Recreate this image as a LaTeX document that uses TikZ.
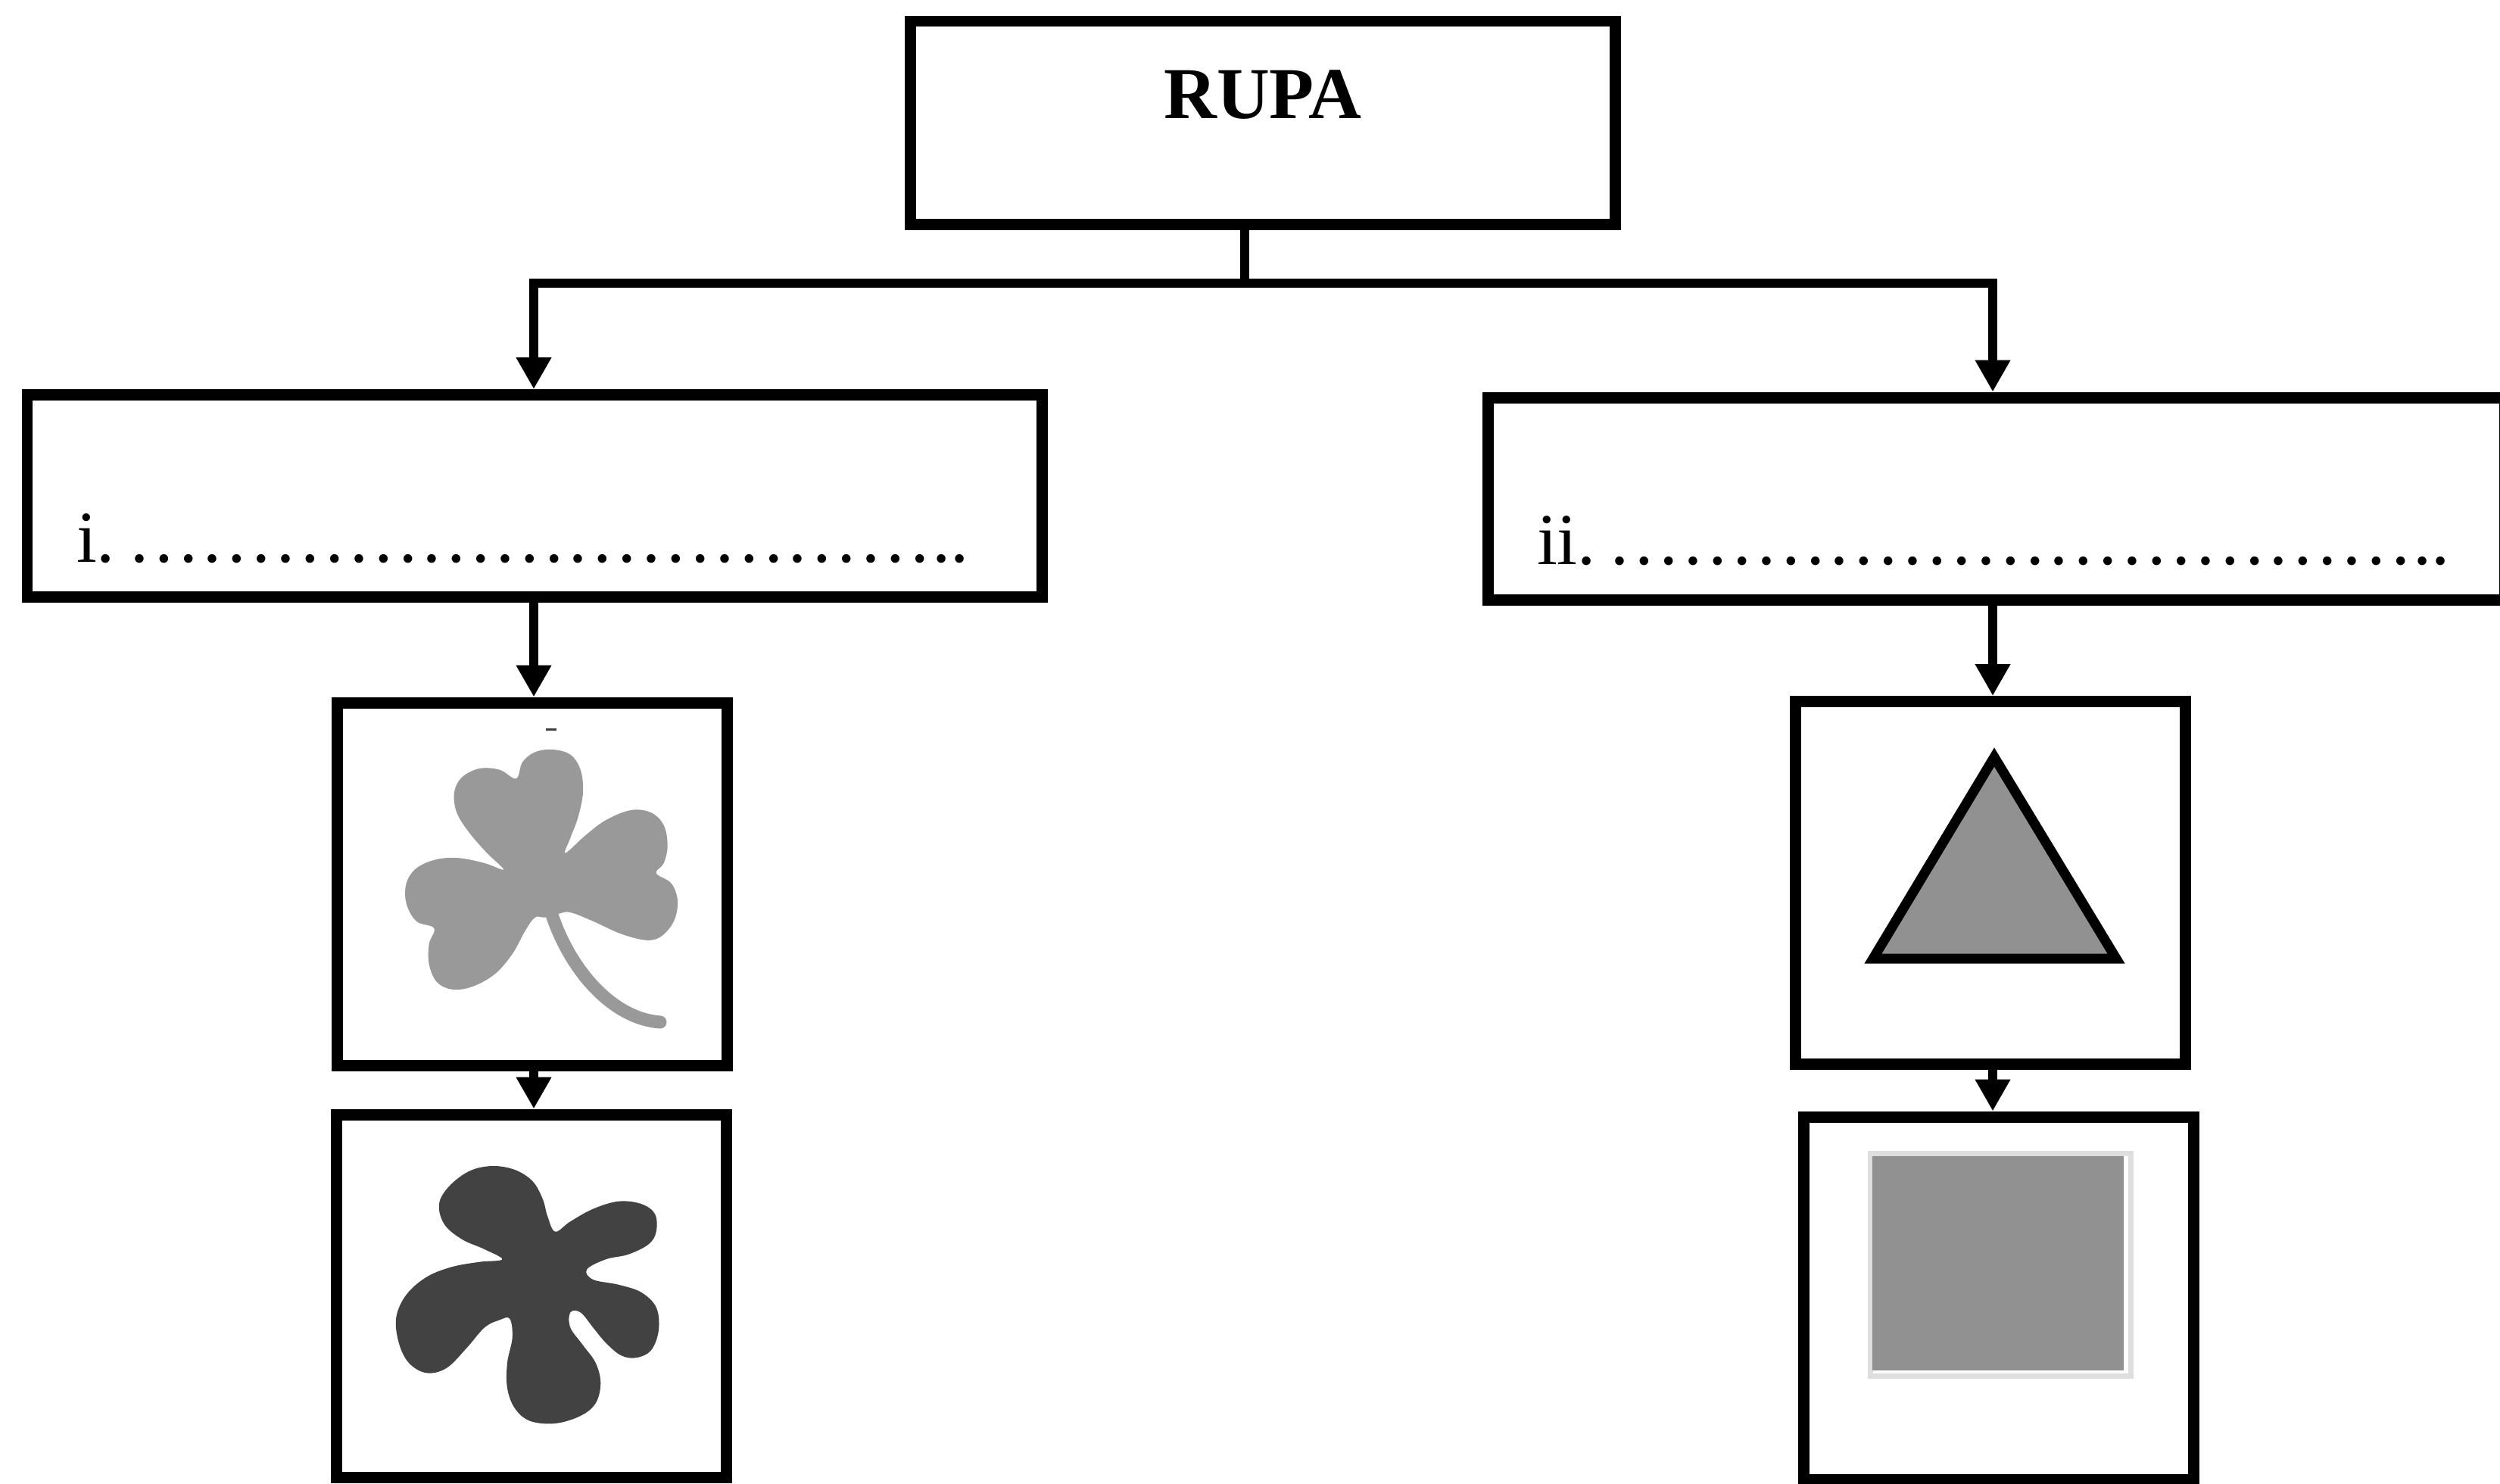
\documentclass[tikz,border=0pt]{standalone}
\usepackage{fontspec}
\setmainfont{Liberation Serif}
\usetikzlibrary{arrows.meta, calc}

\definecolor{leafgray}{RGB}{153,153,153}
\definecolor{blobgray}{RGB}{66,66,66}
\definecolor{shapegray}{RGB}{145,145,145}
\definecolor{edgegray}{RGB}{222,222,222}

\begin{document}
\begin{tikzpicture}[
    box/.style={draw, line width=0.15cm, inner sep=0pt, minimum width=5.15cm, minimum height=4.79cm},
    wide/.style={box, minimum height=2.67cm, inner xsep=0.65cm, text height=1.74cm, text depth=0pt, align=left, font=\fontsize{27.5}{33}\selectfont},
    link/.style={line width=0.12cm},
    arr/.style={link, -{Triangle[width=0.44cm, length=0.42cm]}}
]
    \useasboundingbox (0, 0) rectangle (33.02, -19.60);
    % boxes
    \node[box, minimum width=9.31cm, minimum height=2.68cm, text height=0.64cm, text depth=0.76cm, font=\fontsize{27.5}{33}\selectfont\bfseries] (rupa) at (16.68, -1.62) {RUPA};
    \node[wide, text width=12.10cm] (boxi) at (7.06, -6.55) {i.\,\foreach \k in {1,...,11}{…}..};
    \node[wide, text width=12.13cm] (boxii) at (26.365, -6.585) {ii.\,\foreach \k in {1,...,11}{…}..};
    \node[box] (clover) at (7.025, -11.675) {};
    \node[box] (flower) at (7.02, -17.115) {};
    \node[box] (triangle) at (26.285, -11.66) {};
    \node[box] (square) at (26.40, -17.145) {};
    % connectors
    \coordinate (fork) at (16.44, -3.74);
    \coordinate (lcol) at (7.05, 0);
    \coordinate (rcol) at (26.32, 0);
    \draw[link] (rupa.south -| fork) -- (fork);
    \draw[arr] (fork) -| (lcol |- boxi.north);
    \draw[arr] (fork) -| (rcol |- boxii.north);
    \draw[arr] (lcol |- boxi.south) -- (lcol |- clover.north);
    \draw[arr] (lcol |- clover.south) -- (lcol |- flower.north);
    \draw[arr] (rcol |- boxii.south) -- (rcol |- triangle.north);
    \draw[arr] (rcol |- triangle.south) -- (rcol |- square.north);
    % shamrock
    \fill[leafgray] plot[smooth cycle, tension=0.6] coordinates {
        (7.467, -11.267) (7.733, -11.033) (8.00, -10.833) (8.333, -10.70) (8.60, -10.733)
        (8.767, -10.90) (8.817, -11.167) (8.767, -11.40) (8.667, -11.533) (8.867, -11.667)
        (8.95, -11.90) (8.90, -12.167) (8.733, -12.367) (8.533, -12.417) (8.20, -12.333)
        (7.833, -12.167) (7.533, -12.05) (7.383, -12.067) (7.20, -12.117) (7.067, -12.117)
        (6.933, -12.30) (6.767, -12.60) (6.533, -12.867) (6.233, -13.033) (5.967, -13.067)
        (5.767, -12.967) (5.667, -12.733) (5.667, -12.467) (5.733, -12.26) (5.50, -12.167)
        (5.367, -11.933) (5.367, -11.667) (5.50, -11.467) (5.767, -11.35) (6.067, -11.333)
        (6.40, -11.40) (6.65, -11.483) (6.433, -11.267) (6.20, -11.00) (6.033, -10.733)
        (6.00, -10.467) (6.10, -10.267) (6.333, -10.15) (6.60, -10.167) (6.817, -10.283)
        (6.90, -10.067) (7.067, -9.933) (7.30, -9.90) (7.533, -9.967) (7.667, -10.167)
        (7.70, -10.467) (7.633, -10.80) (7.533, -11.067)};
    \draw[leafgray, line width=0.17cm, line cap=round] (7.28, -12.05) .. controls (7.50, -12.75) and (8.05, -13.45) .. (8.72, -13.50);
    \draw[black!75, line width=0.035cm] (7.21, -9.635) -- (7.35, -9.635);
    % blob
    \fill[blobgray] plot[smooth cycle, tension=0.6] coordinates {
        (6.633, -16.633) (6.40, -16.50) (6.10, -16.367) (5.867, -16.167) (5.80, -15.90)
        (5.933, -15.667) (6.20, -15.467) (6.50, -15.40) (6.80, -15.45) (7.033, -15.60)
        (7.167, -15.833) (7.233, -16.067) (7.333, -16.267) (7.533, -16.133) (7.833, -15.967)
        (8.167, -15.867) (8.467, -15.90) (8.65, -16.033) (8.667, -16.267) (8.567, -16.433)
        (8.30, -16.567) (8.00, -16.633) (7.75, -16.767) (7.833, -16.90) (8.167, -16.967)
        (8.467, -17.067) (8.667, -17.267) (8.70, -17.567) (8.60, -17.833) (8.40, -17.933)
        (8.20, -17.90) (8.00, -17.733) (7.833, -17.533) (7.667, -17.333) (7.533, -17.333)
        (7.533, -17.533) (7.70, -17.767) (7.867, -18.00) (7.933, -18.267) (7.867, -18.533)
        (7.667, -18.70) (7.333, -18.80) (7.00, -18.767) (6.80, -18.60) (6.70, -18.333)
        (6.70, -18.00) (6.767, -17.667) (6.733, -17.417) (6.60, -17.433) (6.40, -17.533)
        (6.167, -17.80) (5.90, -18.067) (5.633, -18.133) (5.40, -18.00) (5.267, -17.733)
        (5.233, -17.40) (5.367, -17.10) (5.633, -16.867) (5.967, -16.733) (6.333, -16.667)};
    % triangle and square
    \filldraw[fill=shapegray, line width=0.13cm] (26.34, -10.0) -- (27.95, -12.66) -- (24.74, -12.66) -- cycle;
    \draw[edgegray, line width=0.07cm] (24.70, -15.235) rectangle (28.14, -18.175);
    \fill[shapegray] (24.73, -15.27) rectangle (28.05, -18.10);
\end{tikzpicture}
\end{document}
